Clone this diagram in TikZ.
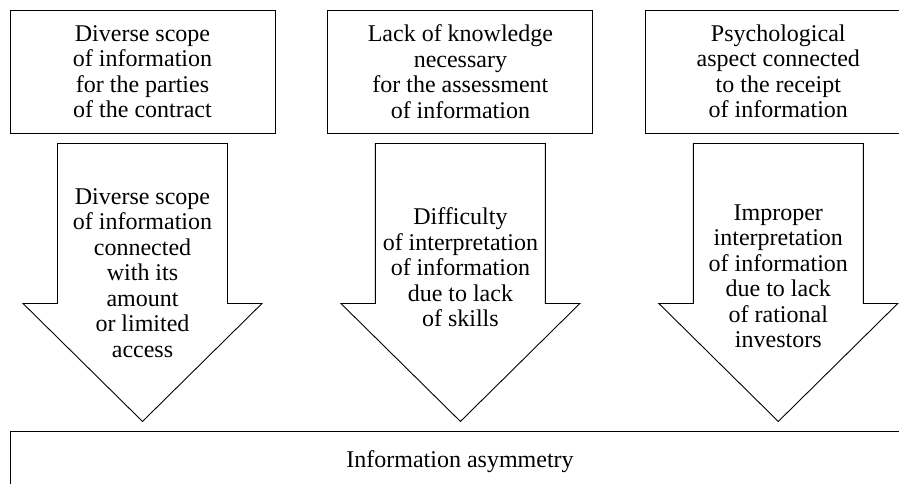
\documentclass[tikz,border=0pt]{standalone}
\usepackage{fontspec}
\setmainfont{Liberation Serif}
\usetikzlibrary{positioning,calc}

\tikzset{
    causebox/.style={draw, line width=0.9pt, minimum width=265pt, minimum height=123pt,
        inner sep=0pt, align=center, font=\fontsize{24}{25.5}\selectfont},
    bigarrow/.style={draw, line width=0.9pt, line join=miter},
    arrowtext/.style={inner sep=0pt, align=center, font=\fontsize{24}{25.5}\selectfont},
    resultbox/.style={draw, line width=0.9pt, minimum width=900pt, minimum height=62pt,
        inner sep=0pt, font=\fontsize{24}{25.5}\selectfont}
}

\begin{document}
\begin{tikzpicture}[x=1pt,y=-1pt]
    \useasboundingbox (0,0) rectangle (899,484);
    \clip (0,0) rectangle (899,484);

    % sources
    \node[causebox] (scope) at (142.5,71.5) {Diverse scope\\of information\\for the parties\\of the contract};
    \node[causebox, right=52pt of scope] (knowledge) {Lack of knowledge\\necessary\\for the assessment\\of information};
    \node[causebox, right=52pt of knowledge] (psych) {Psychological\\aspect connected\\to the receipt\\of information};

    % big arrows
    \draw[bigarrow] ($(scope.south)+(-85,10)$) -- ++(170,0) -- ++(0,160) -- ++(34.5,0) -- ++(-119.5,118) -- ++(-119.5,-118) -- ++(34.5,0) -- cycle;
    \draw[bigarrow] ($(knowledge.south)+(-85,10)$) -- ++(170,0) -- ++(0,160) -- ++(34.5,0) -- ++(-119.5,118) -- ++(-119.5,-118) -- ++(34.5,0) -- cycle;
    \draw[bigarrow] ($(psych.south)+(-85,10)$) -- ++(170,0) -- ++(0,160) -- ++(34.5,0) -- ++(-119.5,118) -- ++(-119.5,-118) -- ++(34.5,0) -- cycle;

    % texts in the arrows
    \node[arrowtext] (scopenote) at ($(scope.south)+(0,139.5)$) {Diverse scope\\of information\\connected\\with its\\amount\\or limited\\access};
    \node[arrowtext] (knowledgenote) at ($(knowledge.south)+(0,134)$) {Difficulty\\of interpretation\\of information\\due to lack\\of skills};
    \node[arrowtext] (psychnote) at ($(psych.south)+(0,143)$) {Improper\\interpretation\\of information\\due to lack\\of rational\\investors};

    % result
    \node[resultbox] (asym) at (460,462) {Information asymmetry};
\end{tikzpicture}
\end{document}
